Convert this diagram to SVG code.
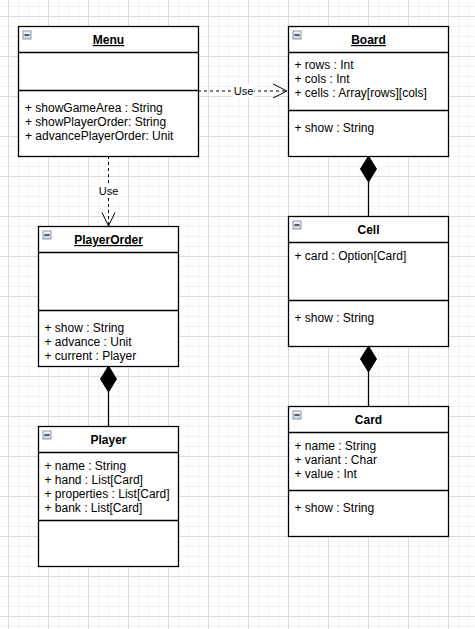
<svg xmlns="http://www.w3.org/2000/svg" width="475" height="629" viewBox="0 0 475 629">
<defs>
<pattern id="minor" x="-2" y="6" width="10" height="10" patternUnits="userSpaceOnUse">
<path d="M0.5 0V10M0 0.5H10" stroke="#f2f2f2" stroke-width="1" fill="none"/>
</pattern>
<pattern id="major" x="8" y="16" width="40" height="40" patternUnits="userSpaceOnUse">
<path d="M0.5 0V40M0 0.5H40" stroke="#dcdcdc" stroke-width="1" fill="none"/>
</pattern>
<linearGradient id="ig" x1="0" y1="0" x2="0" y2="1">
<stop offset="0" stop-color="#f4f6f9"/><stop offset="1" stop-color="#c9d2de"/>
</linearGradient>
<g id="icon">
<rect x="0.5" y="0.5" width="8" height="8" fill="url(#ig)" stroke="#8a97aa" stroke-width="1"/>
<path d="M2 4.5H7" stroke="#000" stroke-width="1.2"/>
</g>
</defs>
<style>
.box{fill:#fff;stroke:#000;stroke-width:1.3}
.sep{stroke:#000;stroke-width:1.3}
text{font-family:"Liberation Sans",Arial,sans-serif;font-size:12px;fill:#000}
.h{font-weight:bold;text-anchor:middle}
.u{text-decoration:underline}
.dash{stroke:#000;stroke-width:1;stroke-dasharray:3 3;fill:none}
.open{stroke:#000;stroke-width:1;fill:none}
.lbl{text-anchor:middle;font-size:11px}
.line{stroke:#000;stroke-width:1.3;fill:none}
.dia{fill:#000;stroke:#000;stroke-width:1}
</style>
<rect width="475" height="629" fill="#fff"/>
<rect width="475" height="629" fill="url(#minor)"/>
<rect width="475" height="629" fill="url(#major)"/>

<g id="connectors">
<path class="dash" d="M198 91H287"/>
<path class="open" d="M273 84L287 91L273 98"/>
<rect x="233" y="84" width="21" height="13" fill="#fff"/>
<text class="lbl" x="243.5" y="95">Use</text>
<path class="dash" d="M108.5 156V226"/>
<path class="open" d="M102 212.5L108.5 226L115 212.5"/>
<rect x="98" y="184" width="21" height="13" fill="#fff"/>
<text class="lbl" x="108.5" y="195">Use</text>
<path class="line" d="M368.5 182V216"/>
<path class="dia" d="M368.5 156L376.5 169L368.5 182L360.5 169Z"/>
<path class="line" d="M368.5 372V406"/>
<path class="dia" d="M368.5 346L376.5 359L368.5 372L360.5 359Z"/>
<path class="line" d="M108.5 392V426"/>
<path class="dia" d="M108.5 366L116.5 379L108.5 392L100.5 379Z"/>
</g>

<g id="menu">
<rect class="box" x="18.5" y="26.5" width="180" height="130"/>
<path class="sep" d="M18.5 52.5H198.5M18.5 90.5H198.5"/>
<use href="#icon" x="22.5" y="30.5"/>
<text class="h u" x="108.5" y="44">Menu</text>
<text x="25" y="112">+ showGameArea : String</text>
<text x="25" y="126">+ showPlayerOrder: String</text>
<text x="25" y="140">+ advancePlayerOrder: Unit</text>
</g>

<g id="board">
<rect class="box" x="288.5" y="26.5" width="160" height="130"/>
<path class="sep" d="M288.5 52.5H448.5M288.5 110.5H448.5"/>
<use href="#icon" x="292.5" y="30.5"/>
<text class="h u" x="368.5" y="44">Board</text>
<text x="294.5" y="69">+ rows : Int</text>
<text x="294.5" y="83">+ cols : Int</text>
<text x="294.5" y="97">+ cells : Array[rows][cols]</text>
<text x="294.5" y="132">+ show : String</text>
</g>

<g id="playerorder">
<rect class="box" x="38.5" y="226.5" width="140" height="140"/>
<path class="sep" d="M38.5 252.5H178.5M38.5 310.5H178.5"/>
<use href="#icon" x="42.5" y="230.5"/>
<text class="h u" x="108.5" y="244">PlayerOrder</text>
<text x="44.5" y="331.5">+ show : String</text>
<text x="44.5" y="345.5">+ advance : Unit</text>
<text x="44.5" y="359.5">+ current : Player</text>
</g>

<g id="cell">
<rect class="box" x="288.5" y="216.5" width="160" height="130"/>
<path class="sep" d="M288.5 242.5H448.5M288.5 300.5H448.5"/>
<use href="#icon" x="292.5" y="220.5"/>
<text class="h" x="368.5" y="234">Cell</text>
<text x="294.5" y="260">+ card : Option[Card]</text>
<text x="294.5" y="322">+ show : String</text>
</g>

<g id="player">
<rect class="box" x="38.5" y="426.5" width="140" height="140"/>
<path class="sep" d="M38.5 452.5H178.5M38.5 520.5H178.5"/>
<use href="#icon" x="42.5" y="430.5"/>
<text class="h" x="108.5" y="444">Player</text>
<text x="44.5" y="470">+ name : String</text>
<text x="44.5" y="484">+ hand : List[Card]</text>
<text x="44.5" y="498">+ properties : List[Card]</text>
<text x="44.5" y="512">+ bank : List[Card]</text>
</g>

<g id="card">
<rect class="box" x="288.5" y="406.5" width="160" height="130"/>
<path class="sep" d="M288.5 432.5H448.5M288.5 490.5H448.5"/>
<use href="#icon" x="292.5" y="410.5"/>
<text class="h" x="368.5" y="424">Card</text>
<text x="294.5" y="450">+ name : String</text>
<text x="294.5" y="464">+ variant : Char</text>
<text x="294.5" y="478">+ value : Int</text>
<text x="294.5" y="511.5">+ show : String</text>
</g>
</svg>
